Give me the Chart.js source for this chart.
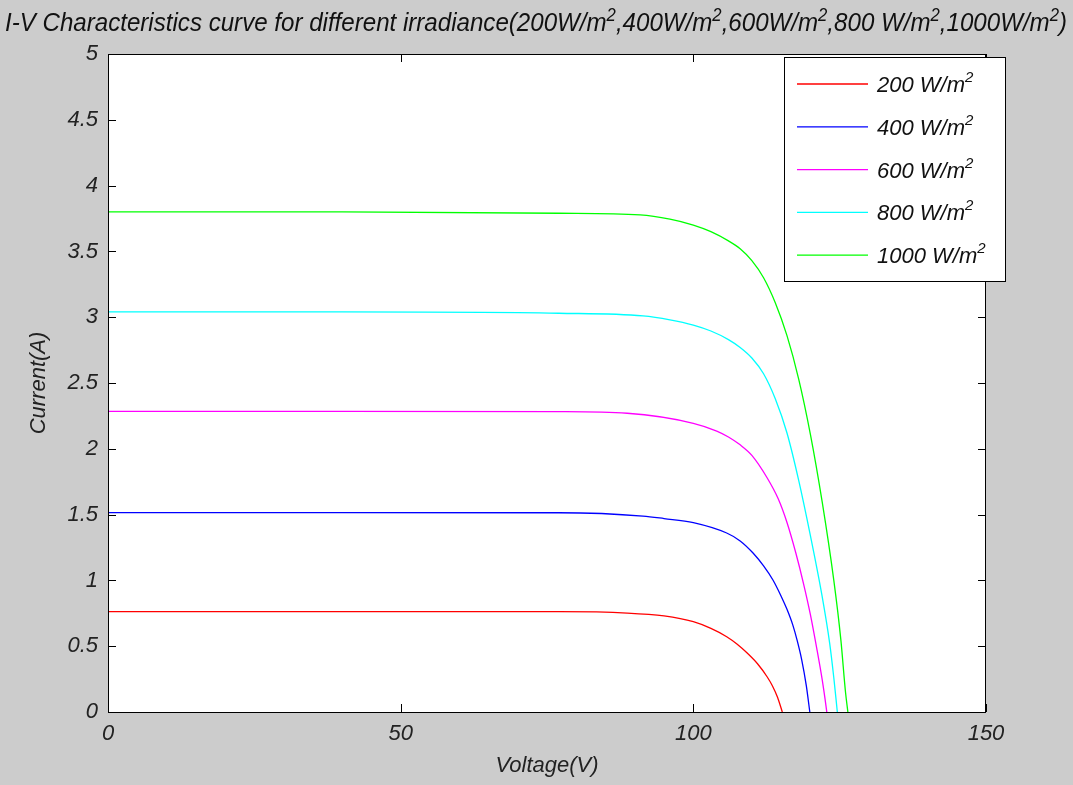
<!DOCTYPE html>
<html>
<head>
<meta charset="utf-8">
<script src="https://cdn.jsdelivr.net/npm/chart.js@4/dist/chart.umd.min.js"></script>
<style>
    html, body { margin: 0; padding: 0; background: #cccccc; }
    #wrap { width: 1073px; height: 785px; }
</style>
</head>
<body>
<div id="wrap"><canvas id="ivChart" width="1073" height="785"></canvas></div>
<script>
// Courbes I-V (tension en V, courant en A)
const seriesLabels = ['200 W/m', '400 W/m', '600 W/m', '800 W/m', '1000 W/m'];
const seriesColors = ['#ff0000', '#0000ff', '#ff00ff', '#00ffff', '#00ff00'];

const v200 = [0, 20, 40, 60, 77, 88.7, 95, 100, 103, 105.7, 107.5, 109.2, 111, 112.6, 113.5, 114.4, 115.2];
const i200 = [0.762, 0.762, 0.762, 0.762, 0.762, 0.752, 0.73, 0.686, 0.635, 0.572, 0.515, 0.448, 0.365, 0.268, 0.20, 0.11, 0];

const v400 = [0, 40, 77, 91.4, 95, 100, 105.7, 108, 110.2, 112, 113.6, 115, 116, 117, 117.7, 118.5, 119.3, 119.9];
const i400 = [1.515, 1.515, 1.514, 1.489, 1.47, 1.439, 1.36, 1.30, 1.208, 1.11, 1.003, 0.88, 0.78, 0.66, 0.55, 0.40, 0.20, 0];

const v600 = [0, 40, 77, 88.7, 100, 104, 106, 108, 110, 112.6, 114.5, 116, 117.5, 118.8, 120, 121.1, 122, 122.5, 122.8];
const i600 = [2.285, 2.285, 2.282, 2.27, 2.194, 2.135, 2.09, 2.03, 1.95, 1.78, 1.62, 1.44, 1.21, 0.98, 0.74, 0.48, 0.25, 0.10, 0];

const v800 = [0, 40, 77, 91.4, 96, 100, 103, 106, 108, 110, 112, 114, 116, 118, 120, 122, 123.3, 124, 124.6];
const i800 = [3.04, 3.04, 3.03, 3.01, 2.98, 2.94, 2.895, 2.83, 2.77, 2.69, 2.57, 2.38, 2.12, 1.76, 1.34, 0.88, 0.52, 0.26, 0];

const v1000 = [0, 40, 77, 90.9, 96, 100, 103, 106, 108, 110, 112, 114, 116, 118, 120, 122, 124, 125.2, 126, 126.4];
const i1000 = [3.80, 3.80, 3.79, 3.777, 3.745, 3.70, 3.65, 3.58, 3.52, 3.43, 3.30, 3.11, 2.86, 2.53, 2.11, 1.60, 1.00, 0.55, 0.15, 0];

const voltages = [v200, v400, v600, v800, v1000];
const currents = [i200, i400, i600, i800, i1000];

const xTicks = [0, 50, 100, 150];
const yTicks = [0, 0.5, 1, 1.5, 2, 2.5, 3, 3.5, 4, 4.5, 5];

const FONT = '"Liberation Sans", Arial, sans-serif';

// texte avec exposant "2" (W/m²)
function drawSup(ctx, parts, x, y, size, supSize, rise) {
    let cx = x;
    parts.forEach(p => {
        if (p.sup) {
            ctx.font = `italic ${supSize}px ${FONT}`;
            ctx.fillText(p.t, cx, y - rise);
        } else {
            ctx.font = `italic ${size}px ${FONT}`;
            ctx.fillText(p.t, cx, y);
        }
        cx += ctx.measureText(p.t).width;
    });
    return cx - x;
}

function measureSup(ctx, parts, size, supSize) {
    let w = 0;
    parts.forEach(p => {
        ctx.font = `italic ${p.sup ? supSize : size}px ${FONT}`;
        w += ctx.measureText(p.t).width;
    });
    return w;
}

// fond gris + zone blanche + cadre, ticks internes, titre et légende façon MATLAB
const matlabLook = {
    id: 'matlabLook',
    beforeDraw(chart) {
        const { ctx, chartArea: a } = chart;
        ctx.save();
        ctx.fillStyle = '#cccccc';
        ctx.fillRect(0, 0, chart.width, chart.height);
        ctx.fillStyle = '#ffffff';
        ctx.fillRect(a.left, a.top, a.right - a.left, a.bottom - a.top);
        ctx.restore();
    },
    afterDraw(chart) {
        const { ctx, chartArea: a, scales } = chart;
        ctx.save();
        // cadre
        ctx.strokeStyle = '#000000';
        ctx.lineWidth = 1;
        ctx.strokeRect(a.left + 0.5, a.top + 0.5, a.right - a.left - 1, a.bottom - a.top);

        // ticks internes (4 côtés)
        const tl = 8;
        ctx.beginPath();
        xTicks.forEach(v => {
            const px = Math.round(scales.x.getPixelForValue(v)) + 0.5;
            ctx.moveTo(px, a.bottom); ctx.lineTo(px, a.bottom - tl);
            ctx.moveTo(px, a.top); ctx.lineTo(px, a.top + tl);
        });
        yTicks.forEach(v => {
            const py = Math.round(scales.y.getPixelForValue(v)) + 0.5;
            ctx.moveTo(a.left, py); ctx.lineTo(a.left + tl, py);
            ctx.moveTo(a.right, py); ctx.lineTo(a.right - tl, py);
        });
        ctx.stroke();

        // titre (police étroite : on resserre horizontalement)
        const titleParts = [
            { t: 'I-V Characteristics curve for different irradiance(200W/m' }, { t: '2', sup: true },
            { t: ',400W/m' }, { t: '2', sup: true },
            { t: ',600W/m' }, { t: '2', sup: true },
            { t: ',800 W/m' }, { t: '2', sup: true },
            { t: ',1000W/m' }, { t: '2', sup: true },
            { t: ')' }
        ];
        const tSize = 26, tSup = 18;
        const tw = measureSup(ctx, titleParts, tSize, tSup);
        const target = 1062;
        ctx.fillStyle = '#111111';
        ctx.textBaseline = 'alphabetic';
        ctx.textAlign = 'left';
        ctx.save();
        ctx.translate(5, 31);
        ctx.scale(target / tw, 1);
        drawSup(ctx, titleParts, 0, 0, tSize, tSup, 10);
        ctx.restore();

        // légende
        const lx = 784, ly = 57, lw = 221, lh = 224;
        ctx.fillStyle = '#ffffff';
        ctx.fillRect(lx, ly, lw, lh);
        ctx.strokeStyle = '#000000';
        ctx.strokeRect(lx + 0.5, ly + 0.5, lw, lh);
        chart.data.datasets.forEach((ds, k) => {
            const ry = 84 + k * 42.8;
            ctx.strokeStyle = ds.borderColor;
            ctx.lineWidth = 1.3;
            ctx.beginPath();
            ctx.moveTo(797, ry); ctx.lineTo(868, ry);
            ctx.stroke();
            ctx.fillStyle = '#111111';
            drawSup(ctx, [{ t: ds.label }, { t: '2', sup: true }], 877, ry + 8, 22, 15, 10);
        });
        ctx.restore();
    }
};

const datasets = seriesLabels.map((label, k) => ({
    label: label,
    data: voltages[k].map((v, j) => ({ x: v, y: currents[k][j] })),
    borderColor: seriesColors[k],
    borderWidth: 1.3,
    pointRadius: 0,
    showLine: true,
    fill: false,
    cubicInterpolationMode: 'monotone'
}));

const tickFont = { family: FONT, size: 22, style: 'italic' };

new Chart(document.getElementById('ivChart').getContext('2d'), {
    type: 'scatter',
    data: { datasets: datasets },
    plugins: [matlabLook],
    options: {
        responsive: false,
        animation: false,
        maintainAspectRatio: false,
        layout: { padding: { top: 54, right: 87, left: 0, bottom: 0 } },
        scales: {
            x: {
                type: 'linear',
                min: 0, max: 150,
                afterBuildTicks: (s) => { s.ticks = xTicks.map(v => ({ value: v })); },
                afterFit: (s) => { s.height = 73; },
                ticks: { font: tickFont, color: '#222222', padding: 9, maxRotation: 0, callback: (v) => String(v) },
                grid: { display: false, drawTicks: false },
                border: { display: false },
                title: { display: true, text: 'Voltage(V)', font: tickFont, color: '#222222', padding: { top: 0, bottom: 6 } }
            },
            y: {
                type: 'linear',
                min: 0, max: 5,
                afterBuildTicks: (s) => { s.ticks = yTicks.map(v => ({ value: v })); },
                afterFit: (s) => { s.width = 108; },
                ticks: { font: tickFont, color: '#222222', padding: 10, callback: (v) => String(v) },
                grid: { display: false, drawTicks: false },
                border: { display: false },
                title: { display: true, text: 'Current(A)', font: tickFont, color: '#222222', padding: { top: 26, bottom: 0 } }
            }
        },
        plugins: {
            legend: { display: false },
            tooltip: { enabled: false },
            title: { display: false }
        }
    }
});
</script>
</body>
</html>
